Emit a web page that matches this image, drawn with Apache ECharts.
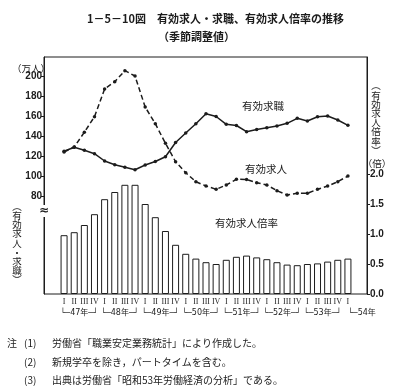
<!DOCTYPE html>
<html><head><meta charset="utf-8">
<script src="https://cdn.jsdelivr.net/npm/echarts@6/dist/echarts.min.js"></script>
<style>html,body{margin:0;padding:0;background:#fff}#c{width:401px;height:391px}</style>
</head><body><div id="c"></div>
<script>
// Quarter tick labels (昭和47年I ~ 54年I)
const quarters = ['I','II','III','IV','I','II','III','IV','I','II','III','IV','I','II','III','IV','I','II','III','IV','I','II','III','IV','I','II','III','IV','I'];
const years = ['47年','48年','49年','50年','51年','52年','53年','54年'];
// 有効求人倍率 (倍)
const ratio = [0.98,1.03,1.15,1.33,1.58,1.70,1.82,1.82,1.50,1.28,1.05,0.82,0.67,0.59,0.53,0.50,0.57,0.62,0.64,0.61,0.58,0.53,0.49,0.48,0.50,0.51,0.54,0.57,0.59];
// 有効求職 (万人)
const seekers = [124.7,128.7,125.7,122.3,115,111.3,108.7,106.3,111,114.5,119.3,133.5,143,152.3,162.3,159.5,151.7,150.5,144.3,146.5,148.3,150,152.7,157.7,155,159.3,160,156,150.7];
// 有効求人 (万人)
const offers = [124,129,143.7,159.3,187,194.3,205.3,200,169,152.3,132.7,114.3,103.3,94.3,90,86.7,91,96.7,96.5,93.3,91,85.3,81,82.7,82.7,86.7,90,94.3,100];
const leftTicks = [80,100,120,140,160,180,200];
const rightTicks = [0,0.5,1.0,1.5,2.0];

const INK = '#1c1c1c';
const JP = "'Noto Sans CJK JP', sans-serif";
const chart = echarts.init(document.getElementById('c'), null, {renderer:'canvas'});
const txt = (x, y, text, size) => ({type:'text', x:x, y:y, silent:true,
  style:{text:text, fill:INK, font: size + "px " + JP, verticalAlign:'middle'}});

const option = {
  animation:false,
  backgroundColor:'#fff',
  title:[
    {text:'1－5－10図　有効求人・求職、有効求人倍率の推移', left:82, top:8,
     textStyle:{fontSize:11, fontWeight:'bold', color:INK, fontFamily:JP}},
    {text:'（季節調整値）', left:153, top:26,
     textStyle:{fontSize:11, fontWeight:'bold', color:INK, fontFamily:JP}}
  ],
  grid:[
    {left:59, right:48, top:57, bottom:97},
    {left:44, right:34, top:57, bottom:97, show:true, borderColor:INK, borderWidth:1, backgroundColor:'transparent'}
  ],
  xAxis:[
    {type:'category', gridIndex:0, data:quarters, boundaryGap:true,
     axisLine:{show:false}, axisTick:{show:false},
     axisLabel:{interval:0, margin:4, fontSize:8, color:INK, fontFamily:"'Liberation Serif', serif"}},
    {type:'value', gridIndex:0, position:'bottom', min:-0.5, max:28.5, interval:0.5,
     axisLine:{show:false, onZero:false}, axisTick:{show:false}, splitLine:{show:false},
     axisLabel:{margin:15, fontSize:8, color:INK, fontFamily:"'DejaVu Sans', " + JP,
       showMinLabel:true, showMaxLabel:true,
       formatter:function(v){
         const k = Math.round((v-1.5)/4);
         if (k>=0 && k<7 && Math.abs(v-(1.5+4*k))<1e-6) return '└─' + years[k] + '─┘';
         if (Math.abs(v-28)<1e-6) return '{l|└─' + years[7] + '}';
         return '';
       },
       rich:{l:{fontSize:8, color:INK, fontFamily:"'DejaVu Sans', " + JP, padding:[0,0,0,28]}}
     }},
    {type:'value', gridIndex:1, show:false}
  ],
  yAxis:[
    {type:'value', gridIndex:0, position:'left', offset:15, min:-18, max:219,
     axisLine:{show:true, onZero:false, lineStyle:{color:INK}},
     axisTick:{show:true, length:3, lineStyle:{color:INK}, customValues:leftTicks},
     axisLabel:{margin:2, fontSize:10, color:INK, fontWeight:'bold', fontFamily:"'Liberation Sans', sans-serif", customValues:leftTicks},
     splitLine:{show:false}},
    {type:'value', gridIndex:0, position:'right', offset:14, min:0, max:3.95,
     axisLine:{show:true, onZero:false, lineStyle:{color:INK}},
     axisTick:{show:true, length:3, lineStyle:{color:INK}, customValues:rightTicks},
     axisLabel:{margin:3, fontSize:10, color:INK, fontWeight:'bold', fontFamily:"'Liberation Sans', sans-serif", customValues:rightTicks,
       formatter:function(v){return v.toFixed(1);}},
     splitLine:{show:false}},
    {type:'value', gridIndex:1, show:false}
  ],
  series:[
    {name:'有効求人倍率', type:'bar', xAxisIndex:0, yAxisIndex:1, data:ratio, barWidth:7,
     itemStyle:{color:'#fff', borderColor:INK, borderWidth:1}},
    {name:'有効求職', type:'line', xAxisIndex:0, yAxisIndex:0, data:seekers, symbol:'circle', symbolSize:3.5,
     lineStyle:{color:INK, width:1.5}, itemStyle:{color:INK}, z:5},
    {name:'有効求人', type:'line', xAxisIndex:0, yAxisIndex:0, data:offers, symbol:'circle', symbolSize:3.5,
     lineStyle:{color:INK, width:1.5, type:[5,3]}, itemStyle:{color:INK}, z:5}
  ],
  graphic:[
    txt(12, 68, '（万人）', 9.5),
    txt(242, 106, '有効求職', 10.5),
    txt(245, 169, '有効求人', 10.5),
    txt(215, 223, '有効求人倍率', 10.5),
    {type:'text', x:376, y:118, silent:true, style:{text:'︵\n有\n効\n求\n人\n倍\n率\n︶', fill:INK, font:'9.5px ' + JP, lineHeight:9.2, align:'center', verticalAlign:'middle'}},
    {type:'text', x:377, y:163, silent:true, style:{text:'（倍）', fill:INK, font:'9.5px ' + JP, align:'center', verticalAlign:'middle'}},
    {type:'text', x:17, y:243, silent:true, style:{text:'︵\n有\n効\n求\n人\n・\n求\n職\n︶', fill:INK, font:'9.5px ' + JP, lineHeight:9.2, align:'center', verticalAlign:'middle'}},
    {type:'text', x:44, y:211, silent:true, z:100, style:{text:'≈', fill:INK, font:'bold 12px DejaVu Sans', align:'center', verticalAlign:'middle', backgroundColor:'#fff'}},
    txt(7, 343, '注', 10),
    txt(24, 343, '(1)', 10),
    txt(52, 343, '労働省「職業安定業務統計」により作成した。', 10),
    txt(24, 362, '(2)', 10),
    txt(52, 362, '新規学卒を除き，パートタイムを含む。', 10),
    txt(24, 380, '(3)', 10),
    txt(52, 380, '出典は労働省「昭和53年労働経済の分析」である。', 10)
  ]
};
chart.setOption(option);
</script></body></html>
